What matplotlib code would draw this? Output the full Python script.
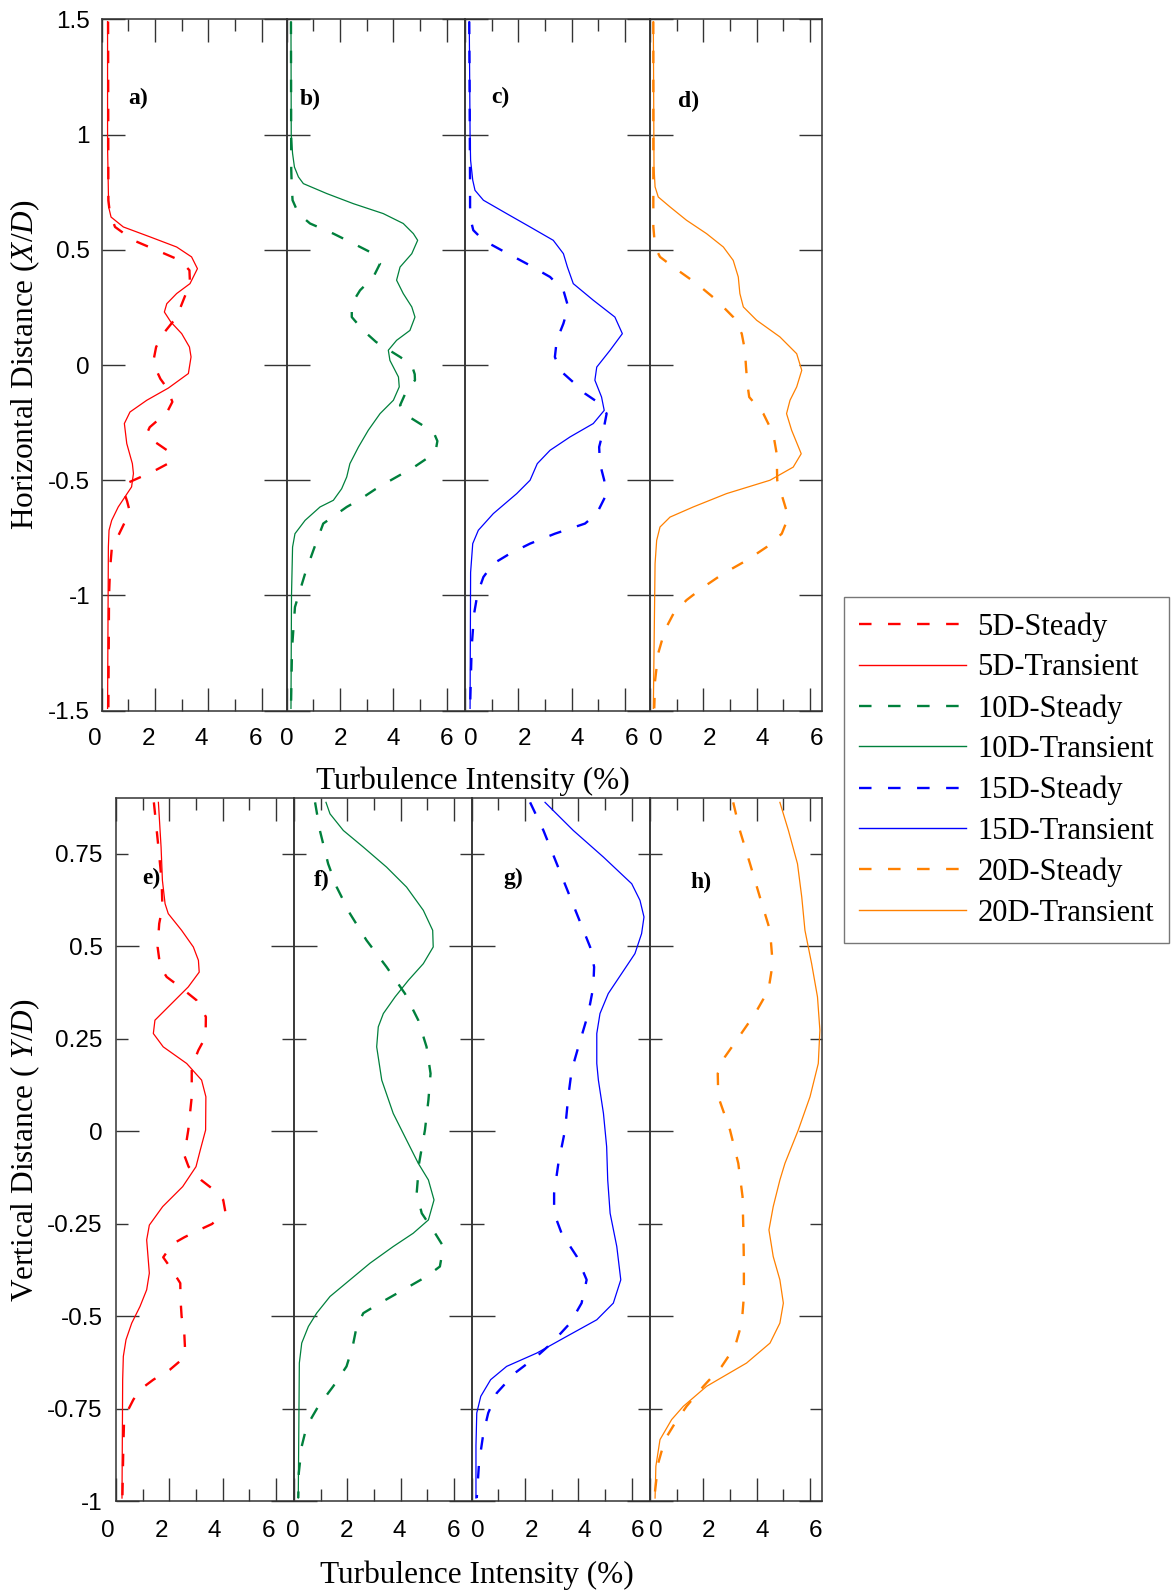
import numpy as np
import matplotlib.pyplot as plt
from matplotlib.ticker import FixedLocator, FuncFormatter
from matplotlib.transforms import ScaledTranslation
from matplotlib.lines import Line2D

plt.rcParams['font.family'] = 'Liberation Serif'
plt.rcParams['mathtext.fontset'] = 'custom'
plt.rcParams['mathtext.rm'] = 'Liberation Serif'
plt.rcParams['mathtext.it'] = 'Liberation Serif:italic'

# ---- horizontal profiles (X/D), turbulence intensity in % ----
a_steady_y = [1.49, 0.714, 0.657, 0.599, 0.541, 0.498, 0.454, 0.411, 0.353, 0.281, 0.208, 0.136, 0.078, 0.03, -0.01, -0.06, -0.1, -0.16, -0.205, -0.24, -0.27, -0.298, -0.33, -0.37, -0.406, -0.43, -0.454, -0.479, -0.51, -0.544, -0.59, -0.63, -0.68, -0.76, -0.8, -0.89, -1.0, -1.49]
a_steady_ti = [0.24, 0.25, 0.31, 0.5, 1.19, 2.06, 2.94, 3.29, 3.31, 3.06, 2.81, 2.31, 2.04, 1.96, 2.0, 2.2, 2.45, 2.65, 2.45, 2.1, 1.8, 1.69, 1.95, 2.45, 2.59, 2.45, 2.06, 1.6, 1.0, 0.81, 0.95, 1.04, 0.875, 0.54, 0.375, 0.31, 0.275, 0.25]
a_trans_y = [1.49, 0.95, 0.686, 0.642, 0.599, 0.556, 0.512, 0.469, 0.418, 0.353, 0.31, 0.266, 0.23, 0.187, 0.136, 0.078, 0.035, -0.037, -0.1, -0.153, -0.204, -0.254, -0.341, -0.428, -0.471, -0.529, -0.616, -0.674, -0.717, -0.79, -1.49]
a_trans_ti = [0.22, 0.22, 0.26, 0.35, 0.81, 1.81, 2.81, 3.37, 3.59, 3.31, 2.81, 2.44, 2.35, 2.59, 3.0, 3.29, 3.35, 3.25, 2.5, 1.69, 1.06, 0.85, 0.94, 1.15, 1.19, 1.12, 0.62, 0.375, 0.275, 0.25, 0.22]

b_steady_y = [1.49, 0.85, 0.773, 0.715, 0.657, 0.614, 0.57, 0.527, 0.483, 0.44, 0.382, 0.324, 0.266, 0.208, 0.15, 0.1, 0.071, 0.035, 0.0, -0.04, -0.066, -0.11, -0.175, -0.223, -0.262, -0.295, -0.33, -0.363, -0.406, -0.445, -0.476, -0.51, -0.54, -0.583, -0.616, -0.688, -0.804, -0.905, -1.05, -1.23, -1.49]
b_steady_ti = [0.16, 0.17, 0.19, 0.22, 0.44, 0.875, 1.75, 2.5, 3.25, 3.5, 3.25, 2.75, 2.44, 2.44, 2.87, 3.35, 3.75, 4.25, 4.69, 4.8, 4.81, 4.5, 4.25, 4.56, 5.1, 5.52, 5.65, 5.6, 5.25, 4.75, 4.27, 3.75, 3.31, 2.75, 2.25, 1.37, 1.0, 0.69, 0.31, 0.2, 0.16]
b_trans_y = [1.49, 1.0, 0.918, 0.859, 0.816, 0.787, 0.744, 0.7, 0.657, 0.614, 0.57, 0.541, 0.483, 0.425, 0.368, 0.31, 0.252, 0.208, 0.15, 0.107, 0.064, 0.02, -0.052, -0.095, -0.153, -0.211, -0.283, -0.356, -0.428, -0.486, -0.537, -0.587, -0.616, -0.674, -0.732, -0.79, -1.0, -1.49]
b_trans_ti = [0.16, 0.17, 0.22, 0.29, 0.44, 0.625, 1.5, 2.5, 3.62, 4.37, 4.75, 4.91, 4.69, 4.25, 4.12, 4.37, 4.69, 4.81, 4.62, 4.12, 3.81, 3.87, 4.19, 4.22, 4.0, 3.5, 3.06, 2.69, 2.37, 2.25, 2.06, 1.75, 1.25, 0.69, 0.31, 0.22, 0.18, 0.16]

c_steady_y = [1.49, 0.773, 0.686, 0.628, 0.585, 0.541, 0.498, 0.44, 0.382, 0.324, 0.252, 0.18, 0.107, 0.035, -0.023, -0.081, -0.124, -0.168, -0.211, -0.283, -0.356, -0.428, -0.5, -0.573, -0.645, -0.688, -0.732, -0.775, -0.818, -0.862, -0.92, -0.992, -1.08, -1.224, -1.49]
c_steady_ti = [0.16, 0.19, 0.19, 0.22, 0.31, 0.69, 1.37, 2.31, 3.19, 3.69, 3.87, 3.69, 3.44, 3.37, 3.56, 4.12, 4.5, 5.06, 5.31, 5.19, 5.03, 5.06, 5.22, 5.25, 4.94, 4.5, 3.37, 2.44, 1.69, 1.06, 0.69, 0.47, 0.34, 0.25, 0.19]
c_trans_y = [1.49, 1.0, 0.888, 0.802, 0.758, 0.715, 0.657, 0.599, 0.541, 0.483, 0.425, 0.353, 0.281, 0.208, 0.136, 0.064, -0.009, -0.066, -0.139, -0.197, -0.254, -0.312, -0.37, -0.428, -0.5, -0.558, -0.645, -0.717, -0.775, -0.9, -1.49]
c_trans_ti = [0.16, 0.19, 0.21, 0.29, 0.375, 0.69, 1.56, 2.44, 3.31, 3.69, 3.84, 4.06, 4.81, 5.62, 5.9, 5.44, 4.94, 4.87, 5.12, 5.22, 4.81, 3.94, 3.19, 2.71, 2.44, 1.94, 1.06, 0.5, 0.29, 0.21, 0.19]

d_steady_y = [1.49, 0.6, 0.512, 0.469, 0.425, 0.353, 0.281, 0.208, 0.136, 0.064, -0.009, -0.081, -0.139, -0.211, -0.298, -0.385, -0.5, -0.587, -0.66, -0.732, -0.79, -0.848, -0.905, -0.964, -1.02, -1.08, -1.15, -1.25, -1.37, -1.49]
d_steady_ti = [0.125, 0.125, 0.19, 0.375, 0.875, 1.75, 2.5, 3.12, 3.44, 3.56, 3.6, 3.65, 3.72, 4.25, 4.62, 4.75, 4.77, 5.0, 5.19, 4.94, 4.37, 3.62, 2.75, 2.0, 1.37, 0.875, 0.56, 0.31, 0.19, 0.16]
d_trans_y = [1.49, 0.859, 0.773, 0.729, 0.686, 0.628, 0.57, 0.512, 0.454, 0.382, 0.31, 0.252, 0.194, 0.122, 0.049, -0.023, -0.095, -0.153, -0.211, -0.283, -0.385, -0.443, -0.5, -0.558, -0.616, -0.66, -0.703, -0.761, -0.862, -1.49]
d_trans_ti = [0.125, 0.15, 0.19, 0.31, 0.75, 1.37, 2.12, 2.75, 3.12, 3.31, 3.37, 3.5, 4.0, 4.87, 5.5, 5.69, 5.5, 5.25, 5.12, 5.31, 5.67, 5.37, 4.5, 2.87, 1.62, 0.75, 0.375, 0.25, 0.19, 0.125]

# ---- vertical profiles (Y/D) ----
e_steady_y = [0.889, 0.768, 0.678, 0.606, 0.561, 0.498, 0.444, 0.417, 0.39, 0.354, 0.309, 0.255, 0.219, 0.174, 0.093, 0.003, -0.065, -0.096, -0.132, -0.155, -0.186, -0.218, -0.251, -0.267, -0.287, -0.305, -0.341, -0.371, -0.411, -0.456, -0.501, -0.546, -0.591, -0.618, -0.645, -0.672, -0.699, -0.726, -0.753, -0.789, -0.852, -0.992]
e_steady_ti = [1.42, 1.59, 1.71, 1.74, 1.62, 1.56, 1.66, 1.9, 2.4, 3.02, 3.37, 3.36, 3.09, 2.84, 2.84, 2.71, 2.56, 2.72, 3.19, 3.6, 4.02, 4.1, 3.6, 3.12, 2.56, 2.12, 1.77, 2.06, 2.41, 2.42, 2.46, 2.56, 2.59, 2.46, 2.02, 1.4, 0.9, 0.65, 0.46, 0.3, 0.275, 0.24]
e_trans_y = [0.889, 0.768, 0.678, 0.615, 0.588, 0.543, 0.498, 0.462, 0.43, 0.39, 0.336, 0.3, 0.264, 0.228, 0.183, 0.138, 0.093, 0.003, -0.051, -0.096, -0.15, -0.204, -0.254, -0.294, -0.384, -0.429, -0.474, -0.519, -0.564, -0.609, -0.672, -0.992]
e_trans_ti = [1.59, 1.69, 1.74, 1.84, 1.96, 2.46, 2.9, 3.09, 3.12, 2.71, 1.96, 1.46, 1.4, 1.77, 2.65, 3.21, 3.37, 3.36, 3.16, 3.0, 2.5, 1.75, 1.25, 1.15, 1.25, 1.15, 0.9, 0.59, 0.375, 0.275, 0.25, 0.225]

f_steady_y = [0.889, 0.813, 0.723, 0.66, 0.588, 0.516, 0.444, 0.372, 0.3, 0.228, 0.156, 0.084, 0.003, -0.087, -0.168, -0.222, -0.276, -0.312, -0.366, -0.393, -0.429, -0.465, -0.492, -0.528, -0.582, -0.636, -0.69, -0.744, -0.798, -0.852, -0.924, -0.992]
f_steady_ti = [0.79, 0.97, 1.28, 1.6, 2.1, 2.72, 3.47, 4.16, 4.66, 4.97, 5.12, 5.04, 4.91, 4.69, 4.6, 4.79, 5.29, 5.6, 5.47, 4.97, 4.1, 3.22, 2.6, 2.35, 2.2, 1.97, 1.47, 0.91, 0.475, 0.29, 0.18, 0.16]
f_trans_y = [0.889, 0.858, 0.813, 0.768, 0.714, 0.66, 0.597, 0.543, 0.498, 0.453, 0.408, 0.363, 0.318, 0.282, 0.228, 0.138, 0.048, -0.024, -0.087, -0.132, -0.186, -0.24, -0.276, -0.312, -0.357, -0.402, -0.447, -0.492, -0.528, -0.573, -0.627, -0.992]
f_trans_ti = [1.2, 1.35, 1.85, 2.6, 3.47, 4.22, 4.85, 5.2, 5.22, 4.85, 4.29, 3.79, 3.35, 3.16, 3.1, 3.29, 3.72, 4.22, 4.66, 5.04, 5.25, 5.04, 4.47, 3.72, 2.85, 2.1, 1.35, 0.85, 0.54, 0.29, 0.2, 0.16]

g_steady_y = [0.889, 0.813, 0.723, 0.633, 0.543, 0.498, 0.444, 0.39, 0.318, 0.228, 0.165, 0.093, 0.003, -0.087, -0.168, -0.222, -0.276, -0.339, -0.402, -0.465, -0.519, -0.573, -0.609, -0.654, -0.708, -0.762, -0.816, -0.897, -0.992]
g_steady_ti = [2.19, 2.69, 3.19, 3.69, 4.19, 4.44, 4.59, 4.56, 4.37, 4.0, 3.75, 3.62, 3.5, 3.25, 3.09, 3.09, 3.37, 3.94, 4.31, 4.12, 3.69, 3.0, 2.44, 1.62, 0.94, 0.62, 0.44, 0.275, 0.19]
g_trans_y = [0.889, 0.813, 0.741, 0.669, 0.624, 0.579, 0.534, 0.48, 0.426, 0.372, 0.318, 0.264, 0.183, 0.138, 0.048, -0.042, -0.132, -0.222, -0.312, -0.402, -0.465, -0.51, -0.555, -0.6, -0.636, -0.672, -0.717, -0.762, -0.85, -0.992]
g_trans_ti = [2.75, 3.81, 4.94, 6.0, 6.31, 6.46, 6.37, 6.12, 5.62, 5.12, 4.81, 4.69, 4.69, 4.75, 4.94, 5.06, 5.1, 5.19, 5.44, 5.59, 5.31, 4.69, 3.56, 2.44, 1.31, 0.71, 0.34, 0.19, 0.16, 0.16]

h_steady_y = [0.889, 0.813, 0.723, 0.633, 0.543, 0.453, 0.381, 0.318, 0.246, 0.201, 0.156, 0.093, 0.003, -0.087, -0.177, -0.267, -0.357, -0.447, -0.519, -0.582, -0.636, -0.69, -0.744, -0.789, -0.834, -0.897, -0.992]
h_steady_ti = [3.12, 3.37, 3.75, 4.12, 4.5, 4.6, 4.44, 3.94, 3.25, 2.81, 2.54, 2.56, 3.0, 3.31, 3.47, 3.5, 3.52, 3.52, 3.44, 3.19, 2.69, 2.0, 1.37, 0.94, 0.56, 0.31, 0.16]
h_trans_y = [0.889, 0.813, 0.723, 0.633, 0.543, 0.453, 0.363, 0.273, 0.183, 0.093, 0.003, -0.087, -0.132, -0.204, -0.267, -0.339, -0.402, -0.465, -0.519, -0.573, -0.627, -0.69, -0.744, -0.78, -0.834, -0.906, -0.992]
h_trans_ti = [4.87, 5.19, 5.53, 5.69, 5.81, 6.06, 6.28, 6.37, 6.31, 6.0, 5.56, 5.06, 4.87, 4.62, 4.46, 4.62, 4.87, 5.0, 4.87, 4.5, 3.62, 2.12, 1.25, 0.81, 0.375, 0.22, 0.19]

colors = ['#ff0000', '#00803c', '#0000ff', '#ff8000']
names = ['5D', '10D', '15D', '20D']
x_ticks = [0, 2, 4, 6]
x_minor = [1, 3, 5]
top_yticks = [-1.5, -1, -0.5, 0, 0.5, 1, 1.5]
bot_yticks = [-1, -0.5, 0, 0.5]
bot_yminor = [-0.75, -0.25, 0.25, 0.75]

W, H = 1174, 1592
PX = 26.67          # pixels per 1 % turbulence intensity
DASH = (0, (5.3, 7.0))
SPINE = '#333333'

fig = plt.figure(figsize=(W / 100, H / 100), dpi=100)


def panel(left, right, top, bottom, ylim, col, steady, trans, dx, first, yt, ytm, xpad, ypad):
    ax = fig.add_axes([left / W, 1 - bottom / H, (right - left) / W, (bottom - top) / H])
    ax.patch.set_alpha(0)
    ax.plot(steady[0], steady[1], color=col, lw=1.7, ls=DASH)
    ax.plot(trans[0], trans[1], color=col, lw=0.9)
    ax.set_xlim(0, (right - left) / PX)
    ax.set_ylim(*ylim)
    ax.xaxis.set_major_locator(FixedLocator(x_ticks))
    ax.xaxis.set_minor_locator(FixedLocator(x_minor))
    ax.yaxis.set_major_locator(FixedLocator(yt))
    ax.yaxis.set_minor_locator(FixedLocator(ytm))
    fmt = FuncFormatter(lambda v, p: '%g' % v)
    ax.xaxis.set_major_formatter(fmt)
    ax.yaxis.set_major_formatter(fmt)
    ax.yaxis.set_minor_formatter(fmt)
    for s in ax.spines.values():
        s.set_color(SPINE)
        s.set_linewidth(1.1)
    ax.tick_params(which='both', direction='in', top=True, right=True, color=SPINE, width=1.0,
                   labelsize=17.5, labelfontfamily='Liberation Sans')
    ax.tick_params(which='major', length=16.5)
    ax.tick_params(which='minor', length=8.3)
    ax.tick_params(axis='x', which='both', pad=xpad)
    ax.tick_params(axis='y', which='both', pad=ypad, labelleft=first)
    for lab in ax.get_xticklabels():
        lab.set_transform(lab.get_transform() + ScaledTranslation(dx / 100, 0, fig.dpi_scale_trans))
    return ax


top_l = [101.7, 286.7, 465, 650]
top_r = [286.7, 465, 650, 822.3]
top_dx = [-6.7, 0, 6, 6]
top_data = [((a_steady_ti, a_steady_y), (a_trans_ti, a_trans_y)),
            ((b_steady_ti, b_steady_y), (b_trans_ti, b_trans_y)),
            ((c_steady_ti, c_steady_y), (c_trans_ti, c_trans_y)),
            ((d_steady_ti, d_steady_y), (d_trans_ti, d_trans_y))]
for i in range(4):
    panel(top_l[i], top_r[i], 19.3, 710.7, (-1.5, 1.5), colors[i], top_data[i][0], top_data[i][1],
          top_dx[i], i == 0, top_yticks, [], 12.7, 8.4)

bot_l = [116, 294, 471.7, 650]
bot_r = [294, 471.7, 650, 822.3]
bot_dx = [-8, -1, 6, 5.5]
bot_data = [((e_steady_ti, e_steady_y), (e_trans_ti, e_trans_y)),
            ((f_steady_ti, f_steady_y), (f_trans_ti, f_trans_y)),
            ((g_steady_ti, g_steady_y), (g_trans_ti, g_trans_y)),
            ((h_steady_ti, h_steady_y), (h_trans_ti, h_trans_y))]
for i in range(4):
    panel(bot_l[i], bot_r[i], 798.3, 1501, (-1, 0.9), colors[i], bot_data[i][0], bot_data[i][1],
          bot_dx[i], i == 0, bot_yticks, bot_yminor, 13.7, 9.6)

# panel tags
tags = ['a)', 'b)', 'c)', 'd)', 'e)', 'f)', 'g)', 'h)']
tag_xy = [(138, 98), (310, 99), (500, 97), (689, 101), (151, 878), (322, 880), (513, 878), (701, 882)]
for t, (px, py) in zip(tags, tag_xy):
    fig.text(px / W, 1 - py / H, t, fontsize=17, fontweight='bold', ha='center', va='center')

# axis titles
fig.text(472.5 / W, 1 - 789.3 / H, 'Turbulence Intensity (%)', fontsize=22.5, ha='center', va='baseline')
fig.text(476.7 / W, 1 - 1582.7 / H, 'Turbulence Intensity (%)', fontsize=22.5, ha='center', va='baseline')
fig.text(25 / W, 1 - 365 / H, 'Horizontal Distance ($X/D$)', fontsize=22.5, rotation=90,
         ha='center', va='center')
fig.text(25 / W, 1 - 1150 / H, 'Vertical Distance ( $Y/D$)', fontsize=22.5, rotation=90,
         ha='center', va='center')

handles = []
labels = []
for c, n in zip(colors, names):
    handles.append(Line2D([], [], color=c, lw=1.7, ls=DASH))
    labels.append(n + '-Steady')
    handles.append(Line2D([], [], color=c, lw=1.0))
    labels.append(n + '-Transient')
leg = fig.legend(handles, labels, loc='upper left', bbox_to_anchor=(844 / W, 1 - 597 / H),
                 borderaxespad=0, frameon=True, fancybox=False, edgecolor='#555555',
                 prop={'family': 'Liberation Serif', 'size': 22}, handlelength=3.5,
                 handletextpad=0.36, labelspacing=0.38, borderpad=0.5)
leg.get_frame().set_linewidth(1.0)

fig.savefig('out.png', dpi=100)
